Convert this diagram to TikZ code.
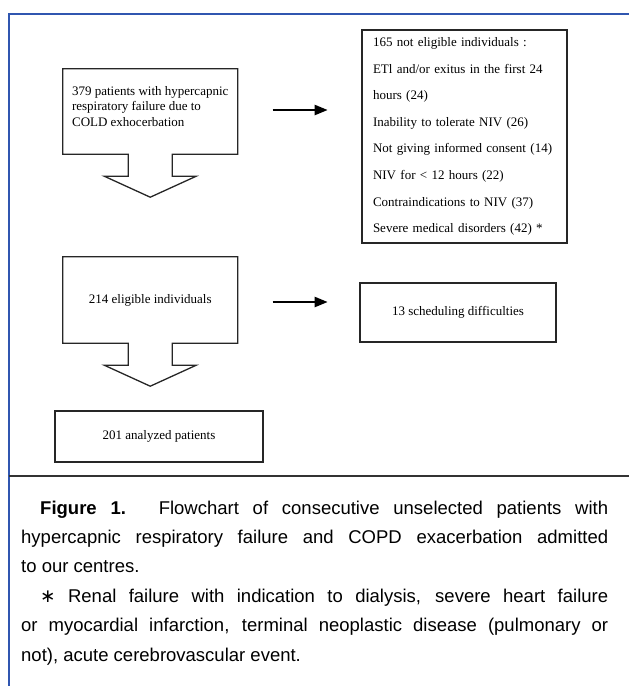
\documentclass[tikz,border=0pt]{standalone}
\usepackage{fontspec}
\setmainfont{Liberation Serif}
\newfontfamily\capfont{Liberation Sans}
\newfontfamily\symfont{DejaVu Sans}
\usepackage{xcolor}
\usepackage{tikz}
\usetikzlibrary{shapes,arrows,positioning,calc,arrows.meta}
\definecolor{frameblue}{RGB}{48,86,176}

\begin{document}
\begin{tikzpicture}[x=1pt,y=-1pt,
    outline/.style={line width=1.3pt, draw=black!85},
    flowbox/.style={outline, draw, inner sep=0pt, font=\fontsize{13}{15.5}\selectfont},
    flow/.style={line width=2.2pt, -{Triangle[length=13pt,width=10pt]}}]
    \useasboundingbox (0,0) rectangle (629,686);
    \draw[frameblue, line width=2pt] (8.5,686) -- (8.5,13.5) -- (629,13.5);
    \draw[black!80, line width=1.8pt] (8.5,476) -- (629,476);

    \node[inner sep=0pt, minimum width=174.5pt, minimum height=85pt, text depth=11pt, align=left, font=\fontsize{13}{15.5}\selectfont] (pat) at (150.25,111.5) {379 patients with hypercapnic\\respiratory failure due to\\COLD exhocerbation};
    \node[inner sep=0pt, minimum width=174.5pt, minimum height=86pt, font=\fontsize{13}{15.5}\selectfont] (elig) at (150.25,300) {214 eligible individuals};
    \foreach \b in {pat,elig} {
        \draw[outline] (\b.south west) -- (\b.north west) -- (\b.north east) -- (\b.south east) -- ($(\b.south)+(22,0)$) -- ++(0,22) -- ++(24,0) -- ($(\b.south)+(0,43)$) -- ++(-46,-21) -- ++(24,0) -- ++(0,-22) -- cycle;
    }

    \node[flowbox, minimum width=205pt, minimum height=213pt, text width=183pt, align=left, font=\fontsize{13}{26.6}\selectfont] (excl) at (464.5,136.5) {165 not eligible individuals :\\ETl and/or exitus in the first 24\\hours (24)\\Inability to tolerate NIV (26)\\Not giving informed consent (14)\\NIV for < 12 hours (22)\\Contraindications to NIV (37)\\Severe medical disorders (42) *};
    \node[flowbox, minimum width=196pt, minimum height=59pt] (sched) at (458,312.5) {13 scheduling difficulties};
    \node[flowbox, minimum width=208pt, minimum height=51pt] (anal) at (159,436.5) {201 analyzed patients};

    \draw[flow] (pat.east) ++(35,-1.5) -- ++(55,0);
    \draw[flow] (elig.east) ++(35,2) -- ++(55,0);

    \node[anchor=base west, inner sep=0pt, text width=587pt, align=justify, font=\capfont\fontsize{18.5}{29.4}\selectfont] (cap) at (21,514) {\hspace*{19pt}\textbf{Figure 1.} Flowchart of consecutive unselected patients with\linebreak hypercapnic respiratory failure and COPD exacerbation admitted\linebreak to our centres.\par
    \hspace*{19pt}{\symfont ∗} Renal failure with indication to dialysis, severe heart failure\linebreak or myocardial infarction, terminal neoplastic disease (pulmonary or\linebreak not), acute cerebrovascular event.};
\end{tikzpicture}
\end{document}
